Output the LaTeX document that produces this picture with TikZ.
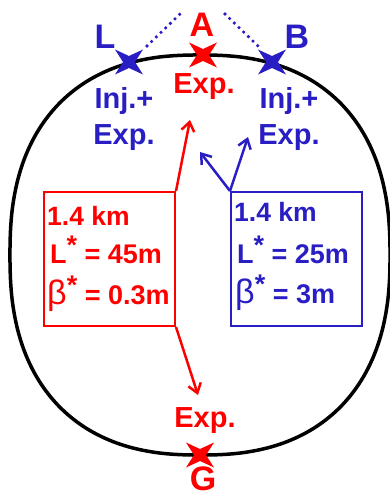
\documentclass[tikz,border=0pt]{standalone}
\usepackage{fontspec}
\setmainfont{Liberation Sans}
\usetikzlibrary{arrows.meta}
\definecolor{myred}{RGB}{255,0,0}
\definecolor{myblue}{RGB}{40,30,195}
\begin{document}
\begin{tikzpicture}[x=1pt,y=-1pt,
  lbl/.style={font=\fontsize{29}{36}\selectfont\bfseries, inner sep=0pt, align=center},
  big/.style={font=\fontsize{34}{36}\selectfont\bfseries, inner sep=0pt},
  boxtxt/.style={font=\fontsize{27}{30}\selectfont\bfseries, inner sep=0pt, anchor=base west},
  kmtxt/.style={font=\fontsize{26.5}{28}\selectfont\bfseries, inner sep=0pt, anchor=base west},
  pbox/.style={draw, line width=2pt, minimum width=131pt, minimum height=134pt, inner sep=0pt},
  arr/.style={line width=2.5pt, -{Straight Barb[length=9pt,width=13pt,line width=2.5pt]}},
  dots/.style={line width=3.6pt, line cap=round, dash pattern=on 0pt off 6.5pt},
  xmark/.pic={\fill (-14,-12.5) -- (-6,0) -- (-14,12.5) -- (0,6) -- (14,12.5) -- (6,0) -- (14,-12.5) -- (0,-6) -- cycle;}
]
\useasboundingbox (0,0) rectangle (389,497);
% ring
\draw[line width=3.5pt] plot[smooth cycle, domain=1:359, samples=180]
  ({200+190*(cos(\x)<0 ? -1 : 1)*abs(cos(\x))^0.8333},
   {255+200*(sin(\x)<0 ? -1 : 1)*abs(sin(\x))^0.8333});
% marks
\pic[myblue] at (129,62) {xmark};
\pic[myblue] at (272,62) {xmark};
\pic[myred] at (203,55) {xmark};
\pic[myred] at (200,455) {xmark};
% big letters
\node[big, text=myblue] (L) at (105,37) {L};
\node[big, text=myred] (A) at (202,25) {A};
\node[big, text=myblue] (B) at (297,37) {B};
\node[big, text=myred] (G) at (203,479) {G};
% dotted lines
\coordinate (d1a) at (147,46); \coordinate (d1b) at (180,14);
\coordinate (d2a) at (225,14); \coordinate (d2b) at (258,46);
\draw[dots, myblue] (d1a) -- (d1b);
\draw[dots, myblue] (d2a) -- (d2b);
% labels
\node[lbl, text=myred] (expA) at (204,87) {Exp.};
\node[lbl, text=myblue] (injL) at (124,119) {Inj.+\\Exp.};
\node[lbl, text=myblue] (injB) at (289,119) {Inj.+\\Exp.};
\node[lbl, text=myred] (expG) at (205,421) {Exp.};
% boxes
\node[pbox, myred] (rbox) at (109.5,259) {};
\node[pbox, myblue] (bbox) at (296.5,259) {};
\node[kmtxt, text=myred] (r1) at (47,225) {1.4 km};
\node[boxtxt, text=myred] (r2) at (50,263) {L\raisebox{0.3em}{*} = 45m};
\node[boxtxt, text=myred] (r3) at (47,304) {{\mdseries\fontsize{34}{36}\selectfont β}\raisebox{0.35em}{*} = 0.3m};
\node[kmtxt, text=myblue] (b1) at (234,221) {1.4 km};
\node[boxtxt, text=myblue] (b2) at (237,263) {L\raisebox{0.3em}{*} = 25m};
\node[boxtxt, text=myblue] (b3) at (235,303) {{\mdseries\fontsize{34}{36}\selectfont β}\raisebox{0.35em}{*} = 3m};
% arrows
\coordinate (tA) at (190,120);
\coordinate (tG) at (198,395);
\coordinate (tb1) at (200,152);
\coordinate (tb2) at (248,137);
\draw[arr, myred] (rbox.north east) -- (tA);
\draw[arr, myred] (rbox.south east) -- (tG);
\draw[arr, myblue] (bbox.north west) -- (tb1);
\draw[arr, myblue] (bbox.north west) -- (tb2);
\end{tikzpicture}
\end{document}
